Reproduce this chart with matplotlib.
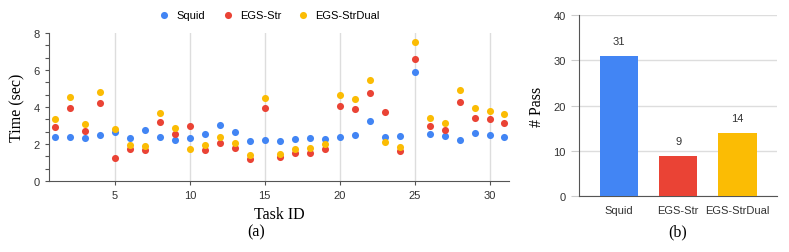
import matplotlib
matplotlib.use("Agg")
import matplotlib.pyplot as plt
from matplotlib.ticker import MultipleLocator

tasks = list(range(1, 32))
squid = [2.36, 2.38, 2.31, 2.49, 2.63, 2.31, 2.76, 2.38, 2.20, 2.31,
         2.54, 3.01, 2.63, 2.18, 2.22, 2.18, 2.25, 2.32, 2.25, 2.38,
         2.47, 3.24, 2.40, 2.43, 5.89, 2.54, 2.43, 2.22, 2.59, 2.47, 2.36]
egs_str = [2.92, 3.96, 2.70, 4.22, 1.23, 1.73, 1.69, 3.19, 2.52, 2.99,
           1.69, 2.07, 1.78, 1.21, 3.93, 1.28, 1.53, 1.53, 1.73, 4.05,
           3.91, 4.77, 3.71, 1.62, 6.59, 2.97, 2.74, 4.29, 3.42, 3.33, 3.15]
egs_dual = [3.35, 4.54, 3.08, 4.83, 2.81, 1.96, 1.91, 3.66, 2.88, 1.71,
            1.95, 2.38, 2.04, 1.39, 4.49, 1.48, 1.75, 1.77, 1.98, 4.63,
            4.45, 5.46, 2.13, 1.86, 7.53, 3.41, 3.12, 4.90, 3.93, 3.80, 3.60]

methods = ["Squid", "EGS-Str", "EGS-StrDual"]
passes = [31, 9, 14]
colors = ["#4285F4", "#EA4335", "#FBBC04"]

sans = "Liberation Sans"
serif = "Liberation Serif"
axis_col = "#555555"
text_col = "#333333"
fs = 8

fig = plt.figure(figsize=(7.89, 2.53), dpi=100)

# (a) scatter
ax1 = fig.add_axes([0.0621, 0.2806, 0.583, 0.585])
for vals, c, lab in zip([squid, egs_str, egs_dual], colors, methods):
    ax1.scatter(tasks, vals, s=26, color=c, label=lab, zorder=3, linewidths=0)
ax1.set_xlim(0.6, 31.3)
ax1.set_ylim(0, 8)
ax1.set_xticks([5, 10, 15, 20, 25, 30])
ax1.set_yticks([0, 2, 4, 6, 8])
ax1.yaxis.set_minor_locator(MultipleLocator(2 / 3))
ax1.grid(axis="x", color="#dddddd", linewidth=1, zorder=0)
for s in ["top", "right"]:
    ax1.spines[s].set_visible(False)
for s in ["left", "bottom"]:
    ax1.spines[s].set_color(axis_col)
ax1.tick_params(axis="both", which="both", colors=axis_col, labelcolor=text_col,
                labelsize=fs, length=3, width=0.8)
for lbl in ax1.get_xticklabels() + ax1.get_yticklabels():
    lbl.set_family(sans)
ax1.set_xlabel("Task ID", family=serif, fontsize=11.5, labelpad=4)
ax1.set_ylabel("Time (sec)", family=serif, fontsize=11.5, labelpad=6)
fig.text(0.325, 0.083, "(a)", family=serif, fontsize=11.5, ha="center", va="center")
fig.legend(loc="center", bbox_to_anchor=(0.338, 0.938), ncol=3, frameon=False,
           prop={"family": sans, "size": fs}, handletextpad=0.1,
           columnspacing=1.0, markerscale=1.0)

# (b) bars
ax2 = fig.add_axes([0.734, 0.22, 0.251, 0.717])
xpos = list(range(len(methods)))
ax2.bar(xpos, passes, width=0.65, color=colors, zorder=3)
for x, v in zip(xpos, passes):
    ax2.text(x, v + 3.3, str(v), ha="center", va="center", family=sans,
             fontsize=fs, color=text_col)
ax2.set_xlim(-0.67, 2.67)
ax2.set_ylim(0, 40)
ax2.set_yticks([0, 10, 20, 30, 40])
ax2.set_xticks(xpos)
ax2.set_xticklabels(methods)
ax2.grid(axis="y", color="#dddddd", linewidth=1, zorder=0)
for s in ["top", "right"]:
    ax2.spines[s].set_visible(False)
for s in ["left", "bottom"]:
    ax2.spines[s].set_color(axis_col)
ax2.tick_params(axis="x", length=0, labelsize=fs, labelcolor=text_col, pad=6)
ax2.tick_params(axis="y", length=6, colors="#cccccc", labelcolor=text_col,
                labelsize=fs)
for lbl in ax2.get_xticklabels() + ax2.get_yticklabels():
    lbl.set_family(sans)
ax2.set_ylabel("# Pass", family=serif, fontsize=11.5, labelpad=6)
fig.text(0.859, 0.083, "(b)", family=serif, fontsize=11.5, ha="center", va="center")

fig.savefig("out.png", dpi=100)
